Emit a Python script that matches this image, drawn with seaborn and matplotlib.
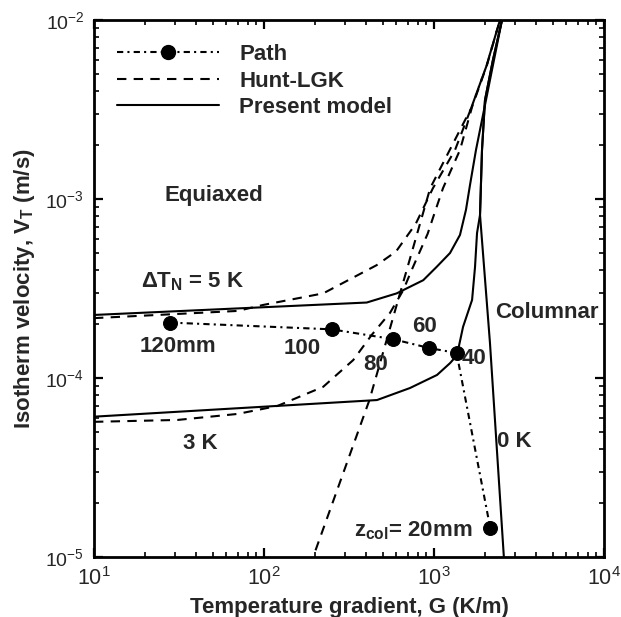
import matplotlib
matplotlib.use("Agg")
import matplotlib.pyplot as plt
from matplotlib.lines import Line2D
from matplotlib.ticker import FixedLocator, NullFormatter, LogFormatterSciNotation
import seaborn as sns
import pandas as pd

# ---------------- data ----------------
# Present model (solid)
pm5_G = [10, 402, 603, 865, 1040, 1242, 1422, 1542, 1629, 1766, 1941, 2193, 2512]
pm5_V = [2.25e-4, 2.64e-4, 2.97e-4, 3.52e-4, 4.19e-4, 4.99e-4, 6.3e-4, 8.7e-4, 1.2e-3, 1.88e-3, 2.94e-3, 5.26e-3, 1e-2]
pm3_G = [10, 462, 722, 1042, 1242, 1365, 1482, 1675, 1743, 1791, 1865, 1916, 1995, 2222, 2512]
pm3_V = [6.08e-5, 7.53e-5, 8.79e-5, 1.04e-4, 1.21e-4, 1.34e-4, 1.93e-4, 2.73e-4, 4.17e-4, 6.45e-4, 8.15e-4, 1.88e-3, 3.57e-3, 5.98e-3, 1e-2]
pm0_G = [2576, 2134, 1865, 1916, 1995, 2222, 2512]
pm0_V = [1e-5, 1.57e-4, 8.15e-4, 1.88e-3, 3.57e-3, 5.98e-3, 1e-2]

# Hunt-LGK (dashed)
h5_G = [10, 70, 99, 223, 460, 598, 781, 986, 1330, 1650, 2030, 2444]
h5_V = [2.16e-4, 2.37e-4, 2.56e-4, 2.97e-4, 4.27e-4, 5.09e-4, 7.27e-4, 1.15e-3, 1.88e-3, 3.2e-3, 5.5e-3, 1e-2]
h3_G = [10, 31, 70, 120, 223, 335, 430, 551, 660, 739, 918, 1014, 1130, 1422, 1675, 2050, 2444]
h3_V = [5.69e-5, 5.83e-5, 6.3e-5, 6.98e-5, 8.93e-5, 1.26e-4, 1.74e-4, 2.31e-4, 3.1e-4, 4.01e-4, 6.4e-4, 8.5e-4, 1.15e-3, 1.88e-3, 3.27e-3, 5.61e-3, 1e-2]
h0_G = [201, 417, 691, 950, 1280, 1650, 2030, 2444]
h0_V = [1.09e-5, 7.53e-5, 4.01e-4, 1.15e-3, 2.0e-3, 3.2e-3, 5.5e-3, 1e-2]

# Path
path_G = [28, 250, 571, 938, 1358, 2140]
path_V = [2.04e-4, 1.87e-4, 1.65e-4, 1.47e-4, 1.38e-4, 1.46e-5]

# annotations
ann_text = ["Equiaxed", r"ΔT$_{\mathbf{N}}$ = 5 K", "Columnar", "120mm", "100", "80",
            "60", "40", "3 K", "0 K", r"z$_{\mathbf{col}}$= 20mm"]
ann_G = [50.7, 18.8, 2286, 18.5, 130, 385, 741, 1450, 33.3, 2349, 337]
ann_V = [1.04e-3, 3.44e-4, 2.31e-4, 1.5e-4, 1.46e-4, 1.19e-4, 1.94e-4, 1.29e-4, 4.3e-5, 4.42e-5, 1.4e-5]
ann_ha = ["center", "left", "left", "left", "left", "left", "left", "left", "left", "left", "left"]

# axis ticks
x_major = [1e1, 1e2, 1e3, 1e4]
y_major = [1e-5, 1e-4, 1e-3, 1e-2]
minor_mult = [2, 3, 4, 5, 6, 7, 8, 9]

# ---------------- style ----------------
sns.set_style("ticks")
plt.rcParams["font.family"] = ["Liberation Sans", "DejaVu Sans"]
plt.rcParams["mathtext.fontset"] = "custom"
plt.rcParams["mathtext.rm"] = "Liberation Sans"
plt.rcParams["mathtext.it"] = "Liberation Sans:italic"
plt.rcParams["mathtext.bf"] = "Liberation Sans:bold"
plt.rcParams["axes.unicode_minus"] = False

fig = plt.figure(figsize=(6.21, 6.17), dpi=100)
ax = fig.add_axes([94 / 621, 1 - 557 / 617, 510 / 621, 537 / 617])

LW = 1.5
DASH = (4.5, 3.5)
DASHDOT = (3, 2, 1, 2)

def draw(G, V, dashes=None, **kw):
    df = pd.DataFrame({"G": G, "V": V})
    sns.lineplot(data=df, x="G", y="V", ax=ax, sort=False, estimator=None,
                 color="black", lw=LW, **kw)
    if dashes is not None:
        ax.lines[-1].set_dashes(dashes)

draw(pm5_G, pm5_V)
draw(pm3_G, pm3_V)
draw(pm0_G, pm0_V)
draw(h5_G, h5_V, dashes=DASH)
draw(h3_G, h3_V, dashes=DASH)
draw(h0_G, h0_V, dashes=DASH)
draw(path_G, path_V, dashes=DASHDOT, marker="o", markersize=10,
     markerfacecolor="black", markeredgecolor="black")

ax.set_xscale("log")
ax.set_yscale("log")
ax.set_xlim(10, 1e4)
ax.set_ylim(1e-5, 1e-2)

for t, g, v, ha in zip(ann_text, ann_G, ann_V, ann_ha):
    ax.text(g, v, t, ha=ha, va="center", fontsize=16, fontweight="bold")

ax.set_xlabel("Temperature gradient, G (K/m)", fontsize=16, fontweight="bold", labelpad=5)
ax.set_ylabel(r"Isotherm velocity, V$_{\mathbf{T}}$ (m/s)", fontsize=16, fontweight="bold", labelpad=6)

x_minor = [m * d for d in x_major[:-1] for m in minor_mult]
y_minor = [m * d for d in y_major[:-1] for m in minor_mult]
ax.xaxis.set_major_locator(FixedLocator(x_major))
ax.yaxis.set_major_locator(FixedLocator(y_major))
ax.xaxis.set_major_formatter(LogFormatterSciNotation())
ax.yaxis.set_major_formatter(LogFormatterSciNotation())
ax.xaxis.set_minor_locator(FixedLocator(x_minor))
ax.yaxis.set_minor_locator(FixedLocator(y_minor))
ax.xaxis.set_minor_formatter(NullFormatter())
ax.yaxis.set_minor_formatter(NullFormatter())
ax.tick_params(which="both", direction="in", top=True, right=True, color="black")
ax.tick_params(which="major", length=6.5, width=1.6)
ax.tick_params(axis="x", which="major", pad=7, labelsize=15.5)
ax.tick_params(axis="y", which="major", pad=7, labelsize=14)
ax.tick_params(which="minor", length=3.5, width=1.2)
for s in ax.spines.values():
    s.set_linewidth(2.0)
    s.set_color("black")

handles = [
    Line2D([], [], color="black", lw=LW, dashes=DASHDOT, marker="o", markersize=10),
    Line2D([], [], color="black", lw=LW, dashes=DASH),
    Line2D([], [], color="black", lw=LW),
]
ax.legend(handles, ["Path", "Hunt-LGK", "Present model"], loc="upper left",
          bbox_to_anchor=(0.045, 0.955), frameon=False, borderpad=0, borderaxespad=0,
          handlelength=4.6, handletextpad=0.9, labelspacing=0.25,
          prop={"weight": "bold", "size": 16})

fig.savefig("out.png", dpi=100)
